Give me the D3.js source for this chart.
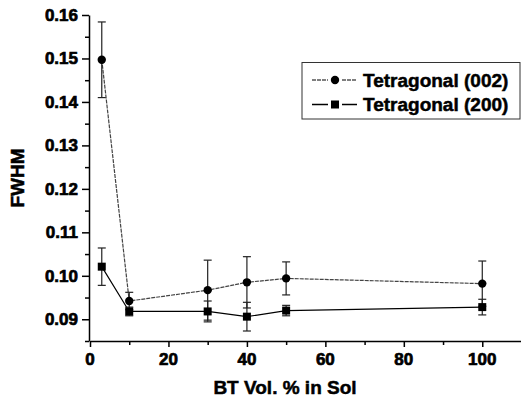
<!DOCTYPE html>
<html>
<head>
<meta charset="utf-8">
<script src="https://cdn.jsdelivr.net/npm/d3@7"></script>
<style>
body{margin:0;background:#fff;}
svg{display:block;}
text{font-family:"Liberation Sans",Arial,sans-serif;font-weight:bold;fill:#000;stroke:#000;stroke-width:0.5px;}
</style>
</head>
<body>
<svg id="chart" width="521" height="399"></svg>
<script>
var btVol=[3,10,30,40,50,100];
var fwhm002=[0.1497,0.0942,0.0967,0.0985,0.0994,0.0982];
var err002=[0.0087,0.0020,0.0069,0.0059,0.0038,0.0052];
var fwhm200=[0.1021,0.0918,0.0918,0.0906,0.0920,0.0928];
var err200=[0.0043,0.0010,0.0024,0.0033,0.0012,0.0018];
var seriesNames=['Tetragonal (002)','Tetragonal (200)'];
var xTicks=[0,20,40,60,80,100];
var yTicks=[0.09,0.10,0.11,0.12,0.13,0.14,0.15,0.16];

var svg=d3.select('#chart');
var x=d3.scaleLinear().domain([0,110]).range([90,521.5]);
var y=d3.scaleLinear().domain([0.085,0.16]).range([341,15]);

//minor ticks first, then major axes on top
svg.append('g').attr('transform','translate(0,341)')
  .call(d3.axisBottom(x).tickValues(d3.range(10,111,20)).tickSize(4).tickFormat(''))
  .call(g=>g.select('.domain').remove());
svg.append('g').attr('transform','translate(89,0)')
  .call(d3.axisLeft(y).tickValues(d3.range(0.085,0.16,0.01)).tickSize(4).tickFormat(''))
  .call(g=>g.select('.domain').remove());

var xAxis=svg.append('g').attr('transform','translate(0,341)')
  .call(d3.axisBottom(x).tickValues(xTicks).tickSize(6).tickSizeOuter(0).tickFormat(''));
var yAxis=svg.append('g').attr('transform','translate(89,0)')
  .call(d3.axisLeft(y).tickValues(yTicks).tickSize(7).tickSizeOuter(0).tickFormat(''));
svg.selectAll('.domain,.tick line').attr('stroke','#000').attr('stroke-width',1.5);

//tick labels as plain text so they pick up the heavy bold style
svg.append('g').selectAll('text').data(xTicks).join('text')
  .attr('x',d=>x(d)).attr('y',365).attr('text-anchor','middle')
  .style('font-size','17px').style('stroke-width','0.7px').text(d=>d);
svg.append('g').selectAll('text').data(yTicks).join('text')
  .attr('x',78).attr('y',d=>y(d)+6).attr('text-anchor','end')
  .style('font-size','17px').style('stroke-width','0.7px').text(d3.format('.2f'));

svg.append('text').attr('x',285).attr('y',394).attr('text-anchor','middle')
  .style('font-size','19px').text('BT Vol. % in Sol');
svg.append('text').attr('transform','translate(24,178) rotate(-90)').attr('text-anchor','middle')
  .style('font-size','19px').text('FWHM');

function drawSeries(vals,errs,shape,dash,color){
  var pts=btVol.map((v,i)=>({x:v,y:vals[i],e:errs[i]}));
  var line=d3.line().x(d=>x(d.x)).y(d=>y(d.y));
  svg.append('path').datum(pts).attr('d',line).attr('fill','none')
    .attr('stroke',color).attr('stroke-width',1.2).attr('stroke-dasharray',dash);
  var eb=svg.append('g').attr('stroke','#222').attr('stroke-width',1.2);
  pts.forEach(function(d){
    eb.append('line').attr('x1',x(d.x)).attr('x2',x(d.x)).attr('y1',y(d.y-d.e)).attr('y2',y(d.y+d.e));
    [d.y-d.e,d.y+d.e].forEach(function(v){
      eb.append('line').attr('x1',x(d.x)-4).attr('x2',x(d.x)+4).attr('y1',y(v)).attr('y2',y(v));
    });
  });
  var sym=d3.symbol().type(shape).size(shape===d3.symbolCircle?55:64);
  svg.append('g').selectAll('path').data(pts).join('path')
    .attr('transform',d=>'translate('+x(d.x)+','+y(d.y)+')')
    .attr('d',sym).attr('fill','#000');
}
drawSeries(fwhm002,err002,d3.symbolCircle,'4,1','#444');
drawSeries(fwhm200,err200,d3.symbolSquare,null,'#000');

//legend
var lg=svg.append('g');
lg.append('rect').attr('x',302).attr('y',62.5).attr('width',218).attr('height',56.5)
  .attr('fill','#fff').attr('stroke','#333').attr('stroke-width',1);
var legendY=[80,104.5];
seriesNames.forEach(function(name,i){
  var ly=legendY[i];
  lg.append('line').attr('x1',312).attr('x2',357).attr('y1',ly).attr('y2',ly)
    .attr('stroke',i===0?'#555':'#000').attr('stroke-width',1.3)
    .attr('stroke-dasharray',i===0?'4,1':null);
  lg.append('rect').attr('x',328).attr('y',ly-6).attr('width',14).attr('height',12).attr('fill','#fff');
  lg.append('path').attr('transform','translate(335,'+ly+')')
    .attr('d',d3.symbol().type(i===0?d3.symbolCircle:d3.symbolSquare).size(i===0?55:64)).attr('fill','#000');
  lg.append('text').attr('x',363).attr('y',ly+6.5).style('font-size','19px').text(name);
});
</script>
</body>
</html>
